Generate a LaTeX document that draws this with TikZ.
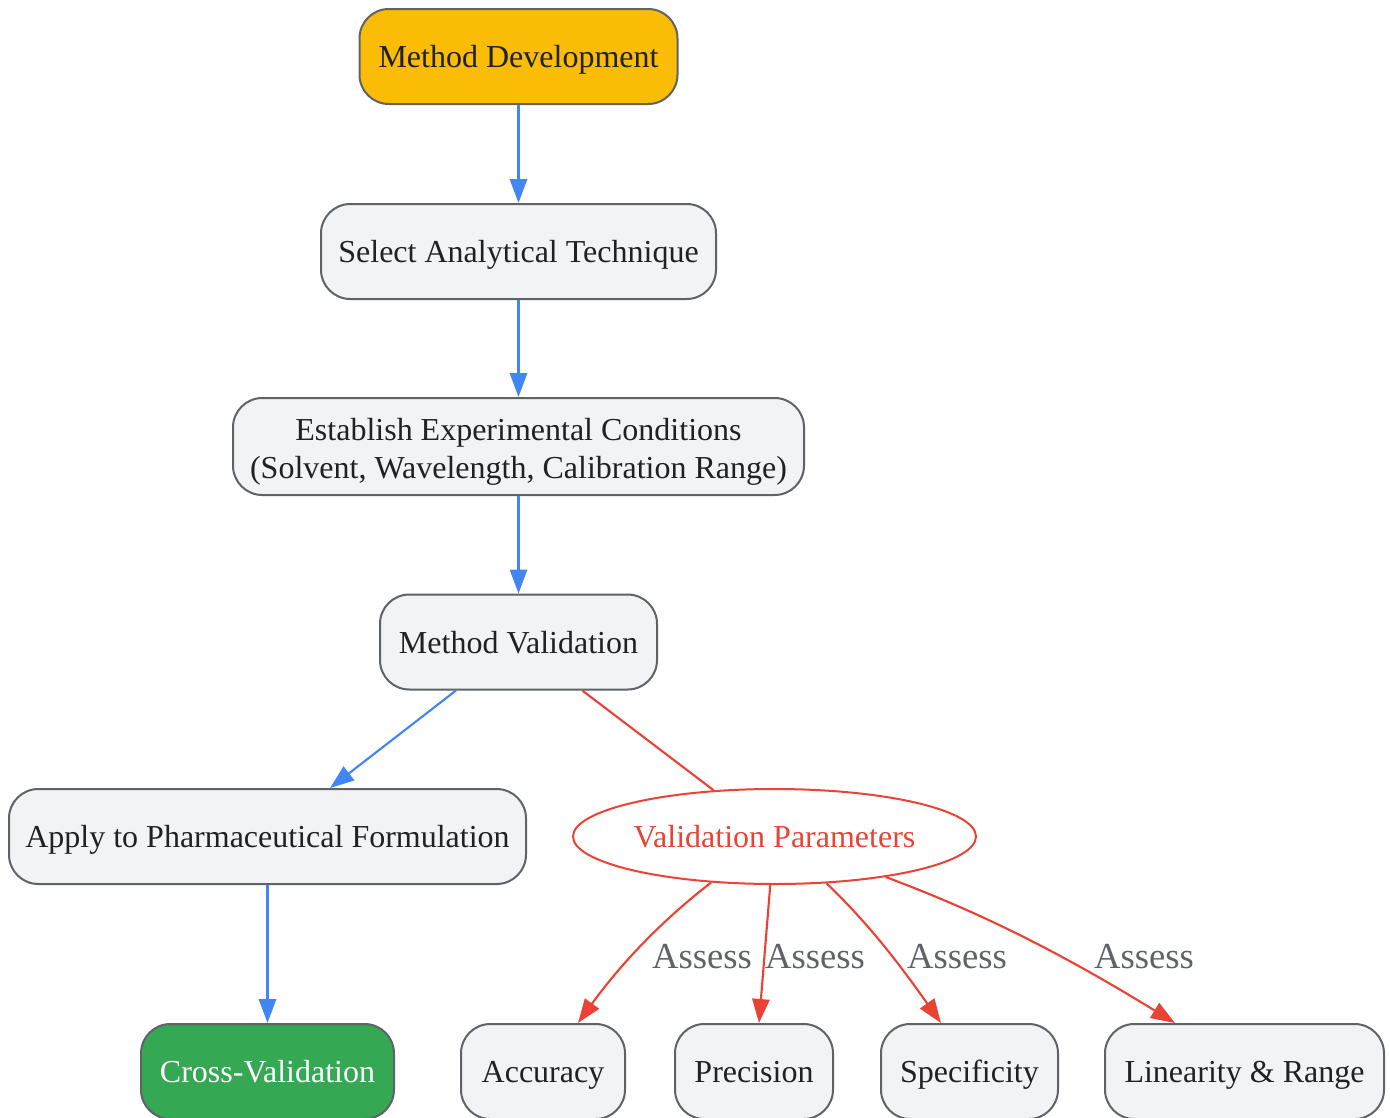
\documentclass[tikz,border=0pt]{standalone}
\usepackage{fontspec}
\setmainfont{Liberation Serif}
\usetikzlibrary{shapes.geometric,arrows.meta,calc}
\definecolor{gborder}{HTML}{5F6368}
\definecolor{gfill}{HTML}{F1F3F4}
\definecolor{gtext}{HTML}{202124}
\definecolor{ggold}{HTML}{FBBC05}
\definecolor{ggreen}{HTML}{34A853}
\definecolor{gblue}{HTML}{4285F4}
\definecolor{gred}{HTML}{EA4335}
\begin{document}
\begin{tikzpicture}[x=0.75pt,y=-0.75pt,
  boxbase/.style={draw=gborder, fill=gfill, line width=1.5pt, rounded corners=22pt, text=gtext,
    font=\fontsize{24}{28.5}\selectfont, inner sep=0pt, align=center, minimum height=71.25pt},
  box/.style={boxbase, text height=21pt, text depth=4pt},
  startbox/.style={box, fill=ggold},
  endbox/.style={box, fill=ggreen, text=white},
  param/.style={ellipse, draw=gred, fill=white, line width=1.5pt, text=gred,
    font=\fontsize{24}{28.5}\selectfont, inner sep=0pt, minimum width=302.25pt, minimum height=71.25pt,
    text height=21pt, text depth=4pt},
  flow/.style={draw=gblue, line width=1.6pt, -{Triangle[length=18pt,width=13pt]}},
  redline/.style={draw=gred, line width=1.6pt},
  assess/.style={redline, -{Triangle[length=18pt,width=13pt]}},
  lbl/.style={text=gborder, font=\fontsize{27.5}{30}\selectfont, inner sep=0pt}
]
\useasboundingbox (0,0) rectangle (1390,1118);

\node[startbox, minimum width=238.5pt] (md) at (518.5,56.5) {Method Development};
\node[box, minimum width=296.25pt] (sat) at (518.5,251.5) {Select Analytical Technique};
\node[boxbase, minimum width=428.25pt, minimum height=72.75pt] (eec) at (518.5,446.5) {\rule{0pt}{24pt}Establish Experimental Conditions\\(Solvent, Wavelength, Calibration Range)};
\node[box, minimum width=207.75pt] (mv) at (518.5,642) {Method Validation};
\node[box, minimum width=387.75pt] (apf) at (267.5,836.5) {Apply to Pharmaceutical Formulation};
\node[param] (vp) at (774.5,836.5) {Validation Parameters};
\node[endbox, minimum width=189.75pt] (cv) at (267.5,1071.5) {Cross-Validation};
\node[box, minimum width=123pt] (acc) at (543,1071.5) {Accuracy};
\node[box, minimum width=118.5pt] (prec) at (754,1071.5) {Precision};
\node[box, minimum width=132.75pt] (spec) at (969.5,1071.5) {Specificity};
\node[box, minimum width=209.25pt] (lin) at (1244.5,1071.5) {Linearity \& Range};

\draw[flow] (md) -- (sat);
\draw[flow] (sat) -- (eec);
\draw[flow] (eec) -- (mv);
\draw[flow] (mv) -- (apf);
\draw[flow] (apf) -- (cv);
\draw[redline] (mv) -- (vp);

\draw[assess] (vp.-144) .. controls (660,922) and (620,965) .. ($(acc.north)+(35,0)$);
\draw[assess] (vp.-95.4) -- ($(prec.north)+(5,0)$);
\draw[assess] (vp.-42.6) .. controls (870,925) and (900,965) .. ($(spec.north)+(-28.5,0)$);
\draw[assess] (vp.-20) .. controls (960,905) and (1040,940) .. ($(lin.north)+(-69.5,0)$);

\node[lbl] (l1) at (702,957) {Assess};
\node[lbl] (l2) at (815,957) {Assess};
\node[lbl] (l3) at (957,957) {Assess};
\node[lbl] (l4) at (1144,957) {Assess};
\end{tikzpicture}
\end{document}
